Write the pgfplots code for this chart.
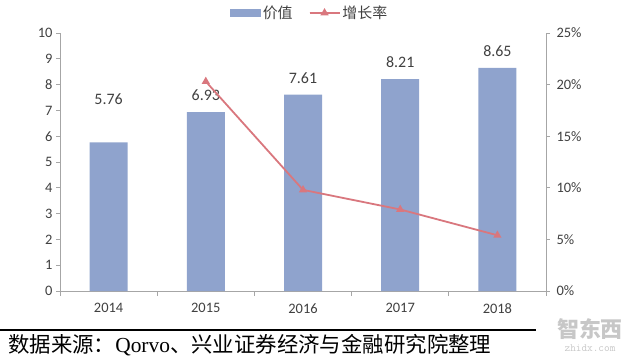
\documentclass[border=0pt]{standalone}
\usepackage{pgfplots}
\pgfplotsset{compat=1.18}
\usepackage{fontspec}
\setmainfont{Carlito}
\newfontfamily\cjk{Noto Sans CJK SC}
\newfontfamily\serifl{Liberation Serif}
\definecolor{barc}{HTML}{8FA3CD}
\definecolor{linec}{HTML}{D9777E}
\definecolor{axc}{HTML}{A6A6A6}
\definecolor{txt}{HTML}{404040}
\pgfplotstableread{
x y dy
0 5.76 34
1 6.93 8
2 7.61 8
3 8.21 8
4 8.65 8
}\valtab
\pgfplotstableread{
x g
1 20.3
2 9.8
3 7.9
4 5.4
}\growtab
\begin{document}
\begin{tikzpicture}[x=1bp,y=1bp]
\useasboundingbox (0,0) rectangle (640,359);
\pgfplotsset{
  common/.style={
    at={(60bp,68bp)}, anchor=south west, scale only axis,
    width=486bp, height=258bp, xmin=-0.5, xmax=4.5,
    axis line style={draw=axc, line width=0.8bp, -},
    tick align=outside, major tick length=4bp, minor tick length=5bp,
    ticklabel style={font=\fontsize{14.5}{17}\selectfont, text=txt},
    /pgf/number format/assume math mode=true,
    every tick/.style={draw=axc, line width=0.8bp},
  }
}
\begin{axis}[common,
  ymin=0, ymax=10, ytick={0,...,10},
  axis y line*=left, axis x line*=bottom,
  xtick={0,...,4}, xticklabels={2014,2015,2016,2017,2018},
  minor xtick={-0.5,0.5,...,4.5},
  major x tick style={draw=none},
  xticklabel style={yshift=-5bp},
  ybar, bar width=38bp,
  nodes near coords,
  visualization depends on={\thisrow{dy} \as \dy},
  nodes near coords style={font=\fontsize{16}{18}\selectfont, text=txt, yshift=\dy,
     /pgf/number format/.cd, fixed, fixed zerofill, precision=2},
]
\addplot[fill=barc, draw=none] table[x=x, y=y] {\valtab};
\end{axis}
\begin{axis}[common,
  ymin=0, ymax=25, ytick={0,5,...,25},
  axis y line*=right, axis x line=none,
  yticklabel={\pgfmathprintnumber{\tick}\%},
  yticklabel style={xshift=3bp},
  legend style={at={(0.514,1.078)}, anchor=center, draw=none, fill=none,
     font=\cjk\fontsize{15}{18}\selectfont, text=txt, legend columns=2,
     /tikz/every even column/.append style={column sep=14bp}},
]
\addlegendimage{legend image code/.code={\fill[barc] (0bp,-3.5bp) rectangle (30bp,3.5bp);}}
\addlegendentry{价值}
\addplot[linec, line width=1.8bp, mark=triangle*, mark size=3bp, mark options={fill=linec},
  legend image code/.code={\draw[linec, line width=1.8bp] (0bp,0bp) -- (30bp,0bp);
     \draw[linec, mark=triangle*, mark size=3bp, mark options={fill=linec}, mark repeat=2, mark phase=2]
        plot coordinates {(0bp,0bp) (15bp,0bp) (30bp,0bp)};}]
  table[x=x, y=g] {\growtab};
\addlegendentry{增长率}
\end{axis}
\draw[black, line width=1.2bp] (0,29) -- (536,29);
\node[anchor=west, inner sep=0pt, font=\cjk\fontsize{21.5}{24}\selectfont, text=black] at (8,14)
  {数据来源：{\serifl Qorvo}、兴业证券经济与金融研究院整理};
\node[text=black!22, font=\cjk\fontsize{22}{24}\selectfont\bfseries] at (590,30) {智东西};
\node[text=black!22, font=\ttfamily\fontsize{11}{12}\selectfont] at (590,11) {zhidx.com};
\end{tikzpicture}
\end{document}
